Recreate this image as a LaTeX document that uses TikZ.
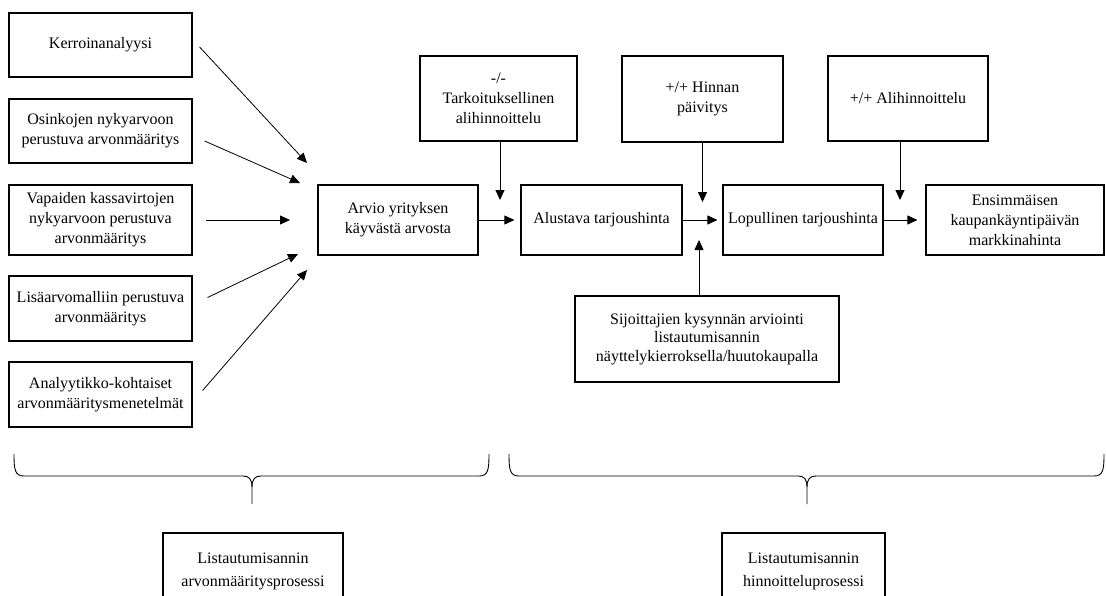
\documentclass[tikz,border=0pt]{standalone}
\usepackage{fontspec}
\setmainfont{Liberation Serif}
\usetikzlibrary{arrows.meta}

\tikzset{
	box/.style={draw, line width=1.2pt, align=center, inner sep=3pt, font=\fontsize{16}{20}\selectfont},
	groupbox/.style={box, font=\fontsize{16}{23}\selectfont},
	arr/.style={line width=0.8pt, -{Triangle[length=10pt,width=9pt]}},
	brace/.style={line width=0.9pt}
}

\begin{document}
\begin{tikzpicture}[x=1pt,y=-1pt]
	
	\useasboundingbox (0,0) rectangle (1106,595);
	
	% arvonmaaritysmenetelmat
	\node[box, minimum width=183pt, minimum height=64pt] (kerroin) at (100.5,45) {Kerroinanalyysi};
	\node[box, minimum width=183pt, minimum height=64pt] (osinko) at (100.5,131) {Osinkojen nykyarvoon\\perustuva arvonm\"a\"aritys};
	\node[box, minimum width=183pt, minimum height=70pt] (kassa) at (100.5,220) {Vapaiden kassavirtojen\\nykyarvoon perustuva\\arvonm\"a\"aritys};
	\node[box, minimum width=183pt, minimum height=65pt] (lisa) at (100.5,308.5) {Lis\"aarvomalliin perustuva\\arvonm\"a\"aritys};
	\node[box, minimum width=183pt, minimum height=65pt] (analyytikko) at (100.5,394.5) {Analyytikko-kohtaiset\\arvonm\"a\"aritysmenetelm\"at};
	
	% hinnoitteluketju
	\node[box, minimum width=160pt, minimum height=70pt] (arvio) at (398,220) {Arvio yrityksen\\k\"ayv\"ast\"a arvosta};
	\node[box, minimum width=161pt, minimum height=70pt] (alustava) at (601.5,220) {Alustava tarjoushinta};
	\node[box, minimum width=160pt, minimum height=70pt] (lopullinen) at (803,220) {Lopullinen tarjoushinta};
	\node[box, minimum width=178pt, minimum height=70pt] (markkina) at (1015,220) {Ensimm\"aisen\\kaupank\"ayntip\"aiv\"an\\markkinahinta};
	
	\node[box, minimum width=157pt, minimum height=85pt] (tarkoitus) at (498.5,98.5) {-/-\\Tarkoituksellinen\\alihinnoittelu};
	\node[box, minimum width=161pt, minimum height=86pt] (paivitys) at (702.5,99) {+/+ Hinnan\\p\"aivitys};
	\node[box, minimum width=160pt, minimum height=85pt] (alihinta) at (908,98.5) {+/+ Alihinnoittelu};
	\node[box, minimum width=264pt, minimum height=86pt, font=\fontsize{16}{18.5}\selectfont] (kysynta) at (707,339) {Sijoittajien kysynn\"an arviointi\\listautumisannin\\n\"ayttelykierroksella/huutokaupalla};
	
	\node[groupbox, minimum width=180pt, minimum height=77pt] (arvoprosessi) at (253,571.5) {Listautumisannin\\arvonm\"a\"aritysprosessi};
	\node[groupbox, minimum width=163pt, minimum height=77pt] (hintaprosessi) at (803.5,571.5) {Listautumisannin\\hinnoitteluprosessi};
	
	\coordinate (in1) at (307,163);
	\coordinate (in2) at (300,183);
	\coordinate (in3) at (290,220);
	\coordinate (in4) at (298,254);
	\coordinate (in5) at (307,270);
	\coordinate (t1) at (500,200);
	\coordinate (p1) at (702.5,202);
	\coordinate (a1) at (900,200);
	\coordinate (k1) at (699,240);
	
	\draw[arr] ([shift={(7,2)}]kerroin.east) -- (in1);
	\draw[arr] ([shift={(12,10)}]osinko.east) -- (in2);
	\draw[arr] ([shift={(13,0)}]kassa.east) -- (in3);
	\draw[arr] ([shift={(15,-11)}]lisa.east) -- (in4);
	\draw[arr] ([shift={(10,-4)}]analyytikko.east) -- (in5);
	
	\draw[arr, shorten >=6pt] (arvio) -- (alustava);
	\draw[arr, shorten >=5pt] (alustava) -- (lopullinen);
	\draw[arr, shorten >=8pt] (lopullinen) -- (markkina);
	
	\draw[arr] ([xshift=1.5pt]tarkoitus.south) -- (t1);
	\draw[arr] (paivitys.south) -- (p1);
	\draw[arr] ([xshift=-8pt]alihinta.south) -- (a1);
	\draw[arr] ([xshift=-8pt]kysynta.north) -- (k1);
	
	% aaltosulkeet
	\draw[brace] (14,454) .. controls (14,470) and (15,476) .. (24,476) -- (243,476) .. controls (249,476) and (252,479) .. (252,487) -- (252,504);
	\draw[brace] (489,454) .. controls (489,470) and (488,476) .. (479,476) -- (261,476) .. controls (255,476) and (252,479) .. (252,487);
	\draw[brace] (509,454) .. controls (509,470) and (510,476) .. (519,476) -- (798,476) .. controls (804,476) and (807,479) .. (807,487) -- (807,504);
	\draw[brace] (1104,454) .. controls (1104,470) and (1103,476) .. (1094,476) -- (816,476) .. controls (810,476) and (807,479) .. (807,487);
	
\end{tikzpicture}
\end{document}
